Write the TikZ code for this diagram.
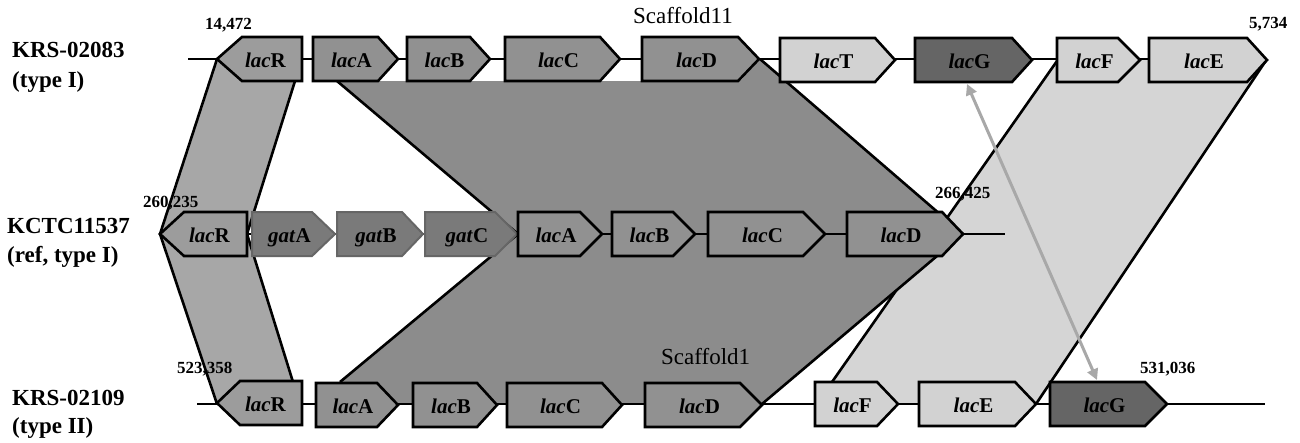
\documentclass[tikz,border=0pt]{standalone}
\usepackage{fontspec}
\setmainfont{Liberation Serif}
\usetikzlibrary{arrows.meta}
\definecolor{lacgray}{HTML}{919191}
\definecolor{rgray}{HTML}{9C9C9C}
\definecolor{bandR}{HTML}{A7A7A7}
\definecolor{bandD}{HTML}{8C8C8C}
\definecolor{bandL}{HTML}{D5D5D5}
\definecolor{lightgene}{HTML}{D2D2D2}
\definecolor{darkgene}{HTML}{656565}
\definecolor{gatgray}{HTML}{7A7A7A}
\definecolor{arrowgray}{HTML}{A8A8A8}
\tikzset{
  genebox/.style={draw=black, line width=2.6pt, line join=miter},
  gatbox/.style={draw=black!60, line width=2pt, line join=miter, fill=gatgray},
  bandedge/.style={draw=black, line width=2.6pt},
  backbone/.style={draw=black, line width=1.6pt},
  genelabel/.style={inner sep=0pt, anchor=base, font=\fontsize{21}{21}\selectfont\bfseries},
  poslabel/.style={inner sep=0pt, anchor=base west, font=\fontsize{17}{17}\selectfont\bfseries},
  strainlabel/.style={inner sep=0pt, anchor=base west, font=\fontsize{23}{23}\selectfont\bfseries},
  scaflabel/.style={inner sep=0pt, anchor=base west, font=\fontsize{23}{23}\selectfont},
  homarrow/.style={draw=arrowgray, line width=3pt, {Triangle[length=11pt,width=11pt]}-{Triangle[length=11pt,width=11pt]}},
}
% forward gene: name, left, slant, tip, y, style, label
\newcommand\fgene[7]{%
  \draw[#6] (#2,#5-22) -- (#3,#5-22) -- (#4,#5) -- (#3,#5+22) -- (#2,#5+22) -- cycle;
  \node[genelabel] (#1) at ({(#2+#4)/2-4},#5+8) {#7};}
% reverse gene: name, tip, slant, right, y, style, label
\newcommand\rgene[7]{%
  \draw[#6] (#2,#5) -- (#3,#5-22) -- (#4,#5-22) -- (#4,#5+22) -- (#3,#5+22) -- cycle;
  \node[genelabel] (#1) at ({(#2+#4)/2+6},#5+8) {#7};}
\begin{document}
\begin{tikzpicture}[x=1pt,y=-1pt]
\useasboundingbox (0,0) rectangle (1300,442);
\fill[white] (0,0) rectangle (1300,442);
% ---- homology bands ----
% lacF/lacE band (light)
\fill[bandL] (1057,59) -- (1267,59) -- (1036,404) -- (832,404) -- (832,382) -- cycle;
\draw[bandedge] (1057,61) -- (832,382);
\draw[bandedge] (1267,59) -- (1036,404);
% lacA-lacD band (dark)
\fill[bandD] (337,81) -- (740,81) -- (760,59) -- (963,234) -- (762,404) -- (340,404) -- (340,382) -- (518,234) -- cycle;
\draw[bandedge] (337,81) -- (518,234) -- (340,382);
\draw[bandedge] (760,59) -- (963,234) -- (762,404);
% lacR band
\fill[bandR] (217,59) -- (295,59) -- (295,81) -- (247,234) -- (293,382) -- (293,404) -- (217,404) -- (160,234) -- cycle;
\draw[bandedge] (217,59) -- (160,234) -- (217,404);
\draw[bandedge] (295,81) -- (247,234) -- (293,382);
% ---- backbones ----
\coordinate (b1s) at (188,59); \coordinate (b1e) at (1267,59);
\coordinate (b2s) at (160,234); \coordinate (b2e) at (1005,234);
\coordinate (b3s) at (197,404); \coordinate (b3e) at (1265,404);
\draw[backbone] (b1s) -- (b1e);
\draw[backbone] (b2s) -- (b2e);
\draw[backbone] (b3s) -- (b3e);
% ---- row 1: KRS-02083 ----
\rgene{a1}{217}{242}{302}{59}{genebox, fill=rgray}{\textit{lac}R}
\fgene{a2}{313}{378}{398}{59}{genebox, fill=lacgray}{\textit{lac}A}
\fgene{a3}{407}{470}{490}{59}{genebox, fill=lacgray}{\textit{lac}B}
\fgene{a4}{505}{600}{620}{59}{genebox, fill=lacgray}{\textit{lac}C}
\fgene{a5}{642}{738}{759}{59}{genebox, fill=lacgray}{\textit{lac}D}
\fgene{a6}{780}{875}{895}{60}{genebox, fill=lightgene}{\textit{lac}T}
\fgene{a7}{915}{1012}{1032}{60}{genebox, fill=darkgene}{\textit{lac}G}
\fgene{a8}{1057}{1118}{1140}{60}{genebox, fill=lightgene}{\textit{lac}F}
\fgene{a9}{1149}{1247}{1267}{60}{genebox, fill=lightgene}{\textit{lac}E}
% ---- row 2: KCTC11537 ----
\rgene{b1}{160}{184}{247}{234}{genebox, fill=rgray}{\textit{lac}R}
\fgene{b2}{252}{312}{335}{234}{gatbox}{\textit{gat}A}
\fgene{b3}{337}{402}{423}{234}{gatbox}{\textit{gat}B}
\fgene{b4}{425}{495}{517}{234}{gatbox}{\textit{gat}C}
\fgene{b5}{518}{580}{602}{234}{genebox, fill=lacgray}{\textit{lac}A}
\fgene{b6}{612}{673}{695}{234}{genebox, fill=lacgray}{\textit{lac}B}
\fgene{b7}{708}{803}{825}{234}{genebox, fill=lacgray}{\textit{lac}C}
\fgene{b8}{847}{942}{963}{234}{genebox, fill=lacgray}{\textit{lac}D}
% ---- row 3: KRS-02109 ----
\rgene{c1}{217}{240}{302}{403}{genebox, fill=rgray}{\textit{lac}R}
\fgene{c2}{316}{377}{398}{405}{genebox, fill=lacgray}{\textit{lac}A}
\fgene{c3}{413}{477}{497}{405}{genebox, fill=lacgray}{\textit{lac}B}
\fgene{c4}{507}{602}{622}{405}{genebox, fill=lacgray}{\textit{lac}C}
\fgene{c5}{645}{740}{762}{405}{genebox, fill=lacgray}{\textit{lac}D}
\fgene{c6}{815}{877}{898}{404}{genebox, fill=lightgene}{\textit{lac}F}
\fgene{c7}{919}{1015}{1036}{404}{genebox, fill=lightgene}{\textit{lac}E}
\fgene{c8}{1050}{1145}{1167}{404}{genebox, fill=darkgene}{\textit{lac}G}
% ---- lacG relocation arrow ----
\coordinate (g1) at (967,84);
\coordinate (g3) at (1097,380);
\draw[homarrow] (g1) -- (g3);
% ---- strain labels ----
\node[strainlabel] (s1a) at (12,57) {KRS-02083};
\node[strainlabel] (s1b) at (12,87) {(type I)};
\node[strainlabel] (s2a) at (7,233) {KCTC11537};
\node[strainlabel] (s2b) at (7,262) {(ref, type I)};
\node[strainlabel] (s3a) at (12,405) {KRS-02109};
\node[strainlabel] (s3b) at (12,433) {(type II)};
% ---- positions and scaffolds ----
\node[poslabel] (p1) at (205,29) {14,472};
\node[poslabel] (p2) at (1249,28) {5,734};
\node[poslabel] (p3) at (143,207) {260,235};
\node[poslabel] (p4) at (935,198) {266,425};
\node[poslabel] (p5) at (177,373) {523,358};
\node[poslabel] (p6) at (1140,373) {531,036};
\node[scaflabel] (sc1) at (633,23) {Scaffold11};
\node[scaflabel] (sc2) at (661,364) {Scaffold1};
\end{tikzpicture}
\end{document}
